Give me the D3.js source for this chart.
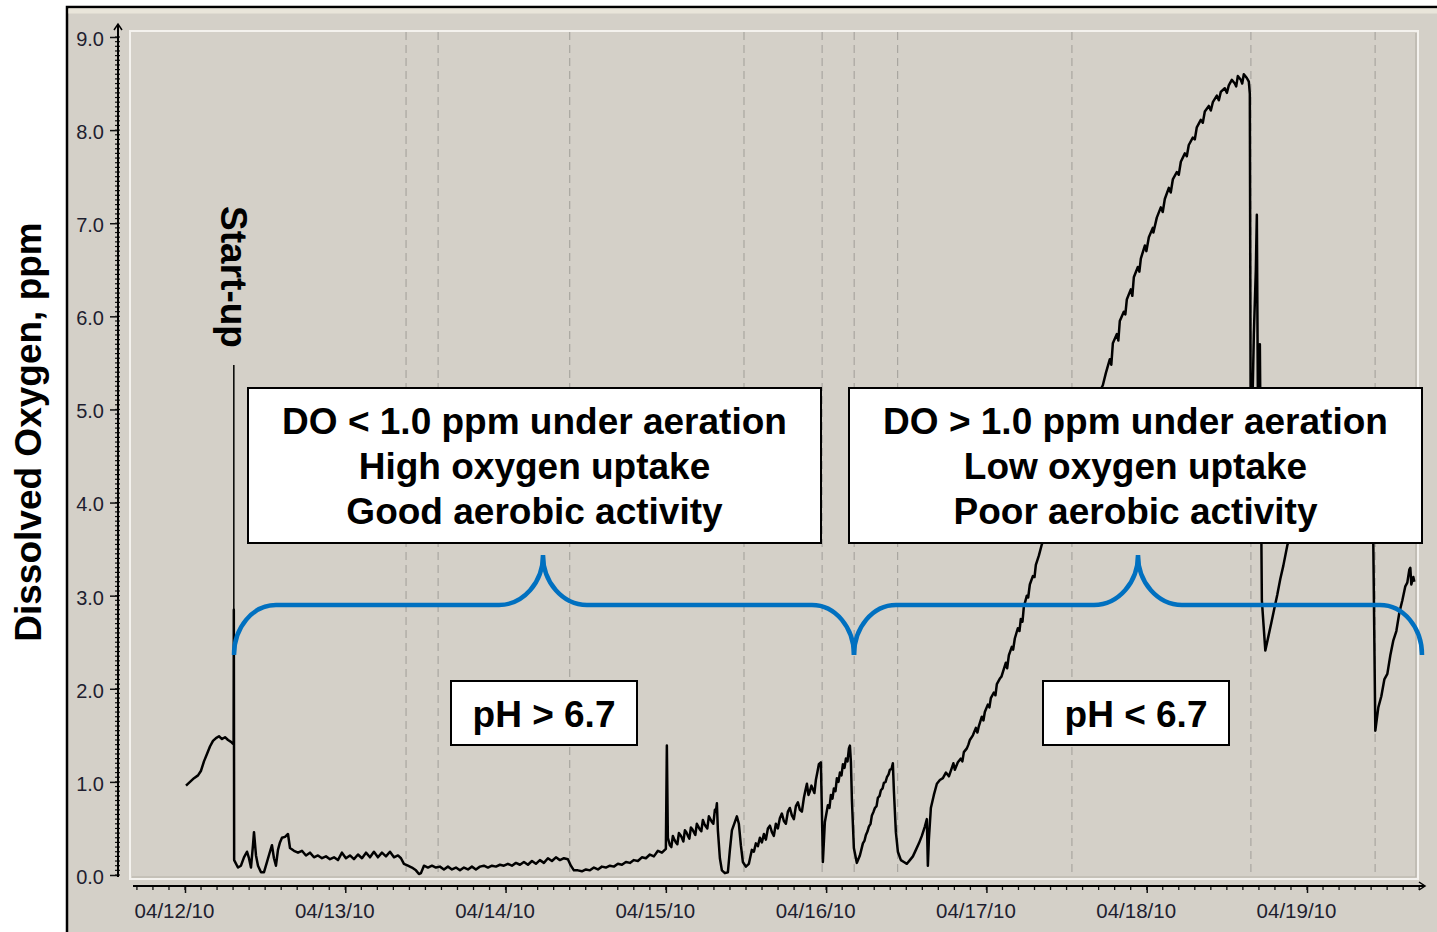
<!DOCTYPE html>
<html>
<head>
<meta charset="utf-8">
<script src="https://cdn.jsdelivr.net/npm/d3@7"></script>
<style>
  html, body { margin: 0; padding: 0; background: #fff; overflow: hidden; }
  svg { display: block; }
</style>
</head>
<body>
<script>
// ---- data ----
const startDate = new Date(2010, 3, 12);           // 04/12/10 00:00
const dayLabels = ["04/12/10", "04/13/10", "04/14/10", "04/15/10", "04/16/10", "04/17/10", "04/18/10", "04/19/10"];
const yTicks = [0, 1, 2, 3, 4, 5, 6, 7, 8, 9];
// hours after start where the dashed event markers sit
const eventHours = [33.1, 37.9, 57.6, 83.7, 95.4, 100.2, 106.7, 132.8, 159.6, 178.2];
const startupHour = 7.31;
// [hours since 04/12 00:00, dissolved oxygen ppm]
const doReadings = [
  [0.15, 0.96], [0.75, 1.00], [1.35, 1.04], [1.95, 1.07], [2.40, 1.12], [2.84, 1.22], [3.29, 1.30], [3.74, 1.38],
  [4.19, 1.44], [4.64, 1.47], [5.09, 1.49], [5.54, 1.46], [5.99, 1.48], [6.44, 1.45], [6.89, 1.43], [7.19, 1.41],
  [7.28, 1.42], [7.31, 2.85], [7.36, 0.16], [7.93, 0.08], [8.38, 0.10], [8.83, 0.19], [9.28, 0.25], [9.58, 0.18],
  [9.88, 0.08], [10.18, 0.32], [10.33, 0.46], [10.63, 0.21], [10.93, 0.10], [11.38, 0.03], [11.83, 0.03], [12.28, 0.14],
  [12.72, 0.25], [13.02, 0.32], [13.32, 0.18], [13.62, 0.10], [13.92, 0.27], [14.22, 0.35], [14.52, 0.40], [14.97, 0.41],
  [15.42, 0.44], [15.72, 0.29], [16.32, 0.26], [16.92, 0.24], [17.51, 0.26], [18.11, 0.21], [18.71, 0.24], [19.31, 0.19],
  [19.91, 0.21], [20.51, 0.18], [21.11, 0.20], [21.71, 0.17], [22.31, 0.19], [22.90, 0.16], [23.50, 0.24], [24.10, 0.18],
  [24.70, 0.21], [25.30, 0.17], [25.90, 0.22], [26.50, 0.18], [27.10, 0.24], [27.70, 0.19], [28.29, 0.25], [28.89, 0.19],
  [29.49, 0.24], [30.09, 0.20], [30.69, 0.25], [31.29, 0.19], [31.89, 0.21], [32.34, 0.18], [32.78, 0.12], [33.38, 0.10],
  [33.98, 0.08], [34.58, 0.05], [35.03, 0.01], [35.33, 0.02], [35.78, 0.10], [36.38, 0.08], [36.98, 0.10], [37.57, 0.08],
  [38.17, 0.09], [38.77, 0.06], [39.37, 0.09], [39.97, 0.06], [40.57, 0.08], [41.17, 0.05], [41.77, 0.08], [42.37, 0.06],
  [42.96, 0.09], [43.56, 0.06], [44.16, 0.09], [44.76, 0.10], [45.36, 0.08], [45.96, 0.10], [46.56, 0.09], [47.16, 0.11],
  [47.75, 0.10], [48.35, 0.12], [48.95, 0.10], [49.55, 0.13], [50.15, 0.11], [50.75, 0.14], [51.35, 0.11], [51.95, 0.15],
  [52.54, 0.12], [53.14, 0.16], [53.74, 0.13], [54.34, 0.18], [54.94, 0.15], [55.54, 0.19], [56.14, 0.16], [56.74, 0.18],
  [57.33, 0.17], [57.78, 0.10], [58.23, 0.05], [58.83, 0.05], [59.43, 0.04], [60.03, 0.06], [60.63, 0.05], [61.23, 0.08],
  [61.83, 0.06], [62.42, 0.09], [63.02, 0.08], [63.62, 0.10], [64.22, 0.09], [64.82, 0.12], [65.42, 0.11], [66.02, 0.14],
  [66.62, 0.13], [67.21, 0.16], [67.81, 0.15], [68.41, 0.19], [69.01, 0.18], [69.61, 0.22], [70.21, 0.20], [70.81, 0.26],
  [71.41, 0.24], [72.00, 0.28], [72.15, 1.39], [72.30, 0.40], [72.45, 0.36], [72.60, 0.32], [72.82, 0.30], [73.05, 0.42],
  [73.27, 0.38], [73.50, 0.35], [73.72, 0.33], [73.95, 0.45], [74.17, 0.43], [74.40, 0.40], [74.62, 0.36], [74.85, 0.48],
  [75.07, 0.46], [75.30, 0.42], [75.52, 0.39], [75.75, 0.51], [75.97, 0.49], [76.19, 0.46], [76.41, 0.43], [76.64, 0.55],
  [76.86, 0.52], [77.09, 0.49], [77.31, 0.47], [77.54, 0.59], [77.76, 0.55], [77.99, 0.52], [78.21, 0.50], [78.44, 0.63],
  [78.66, 0.60], [78.89, 0.57], [79.11, 0.55], [79.34, 0.70], [79.49, 0.68], [79.64, 0.77], [79.79, 0.48], [80.09, 0.18],
  [80.39, 0.05], [80.84, 0.02], [81.29, 0.03], [81.59, 0.27], [81.89, 0.48], [82.34, 0.57], [82.63, 0.63], [82.93, 0.55],
  [83.23, 0.32], [83.53, 0.14], [83.98, 0.09], [84.43, 0.12], [84.88, 0.27], [85.18, 0.25], [85.48, 0.34], [85.78, 0.31],
  [86.08, 0.40], [86.38, 0.35], [86.68, 0.44], [86.98, 0.38], [87.28, 0.50], [87.58, 0.53], [87.88, 0.46], [88.17, 0.42],
  [88.47, 0.55], [88.77, 0.50], [89.07, 0.61], [89.37, 0.66], [89.67, 0.58], [89.97, 0.55], [90.27, 0.68], [90.57, 0.72],
  [90.87, 0.64], [91.17, 0.60], [91.47, 0.74], [91.77, 0.78], [92.07, 0.70], [92.37, 0.68], [92.67, 0.83], [92.87, 0.90],
  [93.12, 0.98], [93.35, 0.86], [93.57, 0.90], [93.80, 0.96], [94.02, 0.92], [94.24, 0.88], [94.46, 1.02], [94.68, 1.10],
  [94.91, 1.19], [95.21, 1.21], [95.36, 0.70], [95.51, 0.14], [95.81, 0.57], [96.26, 0.75], [96.50, 0.72], [96.71, 0.86],
  [96.95, 0.82], [97.16, 0.93], [97.40, 0.90], [97.61, 1.04], [97.85, 1.00], [98.06, 1.10], [98.30, 1.07], [98.51, 1.19],
  [98.75, 1.15], [98.96, 1.25], [99.20, 1.22], [99.41, 1.36], [99.56, 1.39], [99.71, 1.21], [99.86, 0.80], [100.15, 0.29],
  [100.60, 0.13], [101.05, 0.21], [101.30, 0.28], [101.50, 0.34], [101.75, 0.37], [101.95, 0.43], [102.20, 0.47], [102.40, 0.52],
  [102.65, 0.55], [102.85, 0.64], [103.10, 0.68], [103.30, 0.72], [103.55, 0.74], [103.75, 0.83], [104.00, 0.85], [104.20, 0.91],
  [104.45, 0.93], [104.65, 0.99], [104.90, 1.00], [105.10, 1.05], [105.35, 1.08], [105.54, 1.13], [105.80, 1.14], [105.99, 1.20],
  [106.14, 0.91], [106.44, 0.46], [106.74, 0.25], [107.19, 0.16], [107.64, 0.14], [108.09, 0.12], [108.54, 0.16], [108.99, 0.20],
  [109.44, 0.27], [109.89, 0.34], [110.33, 0.42], [110.78, 0.52], [111.08, 0.60], [111.23, 0.10], [111.38, 0.38], [111.68, 0.72],
  [112.13, 0.86], [112.58, 0.98], [113.03, 1.02], [113.48, 1.04], [113.93, 1.10], [114.38, 1.06], [114.82, 1.15], [115.05, 1.20],
  [115.27, 1.13], [115.72, 1.21], [116.17, 1.25], [116.40, 1.22], [116.62, 1.32], [117.07, 1.36], [117.30, 1.40], [117.52, 1.45],
  [117.97, 1.50], [118.42, 1.58], [118.65, 1.53], [118.87, 1.60], [119.31, 1.70], [119.55, 1.66], [119.76, 1.75], [120.21, 1.83],
  [120.45, 1.80], [120.66, 1.90], [121.11, 1.96], [121.35, 1.93], [121.56, 2.05], [122.01, 2.11], [122.25, 2.13], [122.46, 2.18],
  [122.91, 2.28], [123.10, 2.22], [123.36, 2.36], [123.80, 2.45], [124.00, 2.42], [124.25, 2.54], [124.70, 2.65], [124.95, 2.62],
  [125.15, 2.75], [125.40, 2.72], [125.60, 2.88], [126.05, 3.00], [126.25, 2.98], [126.50, 3.12], [126.95, 3.21], [127.20, 3.20],
  [127.40, 3.33], [127.85, 3.43], [128.29, 3.55], [130.99, 4.02], [133.98, 4.55], [136.98, 5.20], [137.43, 5.26], [137.88, 5.39],
  [138.48, 5.54], [138.70, 5.48], [138.93, 5.71], [139.53, 5.81], [139.75, 5.74], [139.97, 5.95], [140.57, 6.05], [140.80, 6.02],
  [141.02, 6.18], [141.62, 6.29], [141.85, 6.22], [142.07, 6.42], [142.67, 6.53], [142.90, 6.48], [143.12, 6.62], [143.72, 6.76],
  [143.95, 6.70], [144.32, 6.85], [144.91, 6.95], [145.00, 6.90], [145.51, 7.06], [146.11, 7.17], [146.40, 7.12], [146.71, 7.26],
  [147.31, 7.38], [147.60, 7.33], [147.91, 7.47], [148.51, 7.55], [148.80, 7.52], [149.11, 7.66], [149.71, 7.75], [150.00, 7.72],
  [150.30, 7.84], [150.90, 7.92], [151.20, 7.90], [151.50, 8.03], [152.10, 8.11], [152.40, 8.08], [152.70, 8.20], [153.30, 8.26],
  [153.60, 8.21], [153.90, 8.30], [154.50, 8.37], [154.80, 8.32], [155.09, 8.41], [155.69, 8.45], [156.00, 8.40], [156.29, 8.48],
  [156.74, 8.54], [157.19, 8.50], [157.40, 8.47], [157.64, 8.58], [158.09, 8.54], [158.30, 8.50], [158.54, 8.60], [158.99, 8.56],
  [159.29, 8.52], [159.44, 8.39], [159.59, 4.20], [160.04, 5.80], [160.34, 6.50], [160.49, 7.09], [160.64, 5.20], [160.94, 5.70],
  [161.24, 2.95], [161.76, 2.41], [162.21, 2.56], [162.66, 2.71], [163.10, 2.86], [163.55, 3.01], [164.00, 3.18], [164.45, 3.32],
  [165.05, 3.54], [168.49, 4.34], [172.99, 4.77], [177.63, 5.09], [177.93, 3.54], [178.23, 1.55], [178.68, 1.80], [179.13, 1.92],
  [179.58, 2.10], [180.03, 2.16], [180.48, 2.36], [180.93, 2.52], [181.38, 2.62], [181.83, 2.82], [182.28, 2.95], [182.72, 3.10],
  [183.02, 3.14], [183.32, 3.28], [183.47, 3.30], [183.62, 3.12], [183.92, 3.20], [184.07, 3.15]
];
const regimeNotes = [
  ["DO < 1.0 ppm under aeration", "High oxygen uptake", "Good aerobic activity"],
  ["DO > 1.0 ppm under aeration", "Low oxygen uptake", "Poor aerobic activity"]
];
const phNotes = ["pH > 6.7", "pH < 6.7"];

// ---- layout ----
const W = 1437, H = 932;
const boldFont = "'Liberation Sans', Arial, sans-serif";
const tickFont = "'Liberation Sans', Arial, sans-serif";
const bg = "#d4d0c8";

const hourDate = h => new Date(+startDate + h * 3600e3);
const x = d3.scaleTime().domain([startDate, hourDate(7 * 24)]).range([185, 1307]);
const xh = h => x(hourDate(h));
const y = d3.scaleLinear().domain([0, 9]).range([875, 37]);

const svg = d3.select("body").append("svg").attr("width", W).attr("height", H);

// window frame
svg.append("rect").attr("width", W).attr("height", H).attr("fill", "#fff");
svg.append("rect").attr("x", 67).attr("y", 7).attr("width", W).attr("height", H)
  .attr("fill", bg).attr("stroke", "#000").attr("stroke-width", 2.5);
svg.append("rect").attr("x", 68.5).attr("y", 8.5).attr("width", W).attr("height", 5).attr("fill", "#e9e5da");

// sunken plot area border
svg.append("rect").attr("x", 130).attr("y", 31).attr("width", 1288).attr("height", 848)
  .attr("fill", "none").attr("stroke", "#f4f2ee").attr("stroke-width", 2);
svg.append("path").attr("d", "M1416,33V877H132").attr("fill", "none").attr("stroke", "#b5b1a8").attr("stroke-width", 1.2);

// event markers
svg.append("g").selectAll("line").data(eventHours).join("line")
  .attr("x1", d => xh(d)).attr("x2", d => xh(d))
  .attr("y1", 32).attr("y2", 876)
  .attr("stroke", "#a9a6a0").attr("stroke-width", 1.2).attr("stroke-dasharray", "8,5");

// y axis
const yAxis = svg.append("g").attr("transform", "translate(118,0)");
yAxis.call(d3.axisLeft(y).tickValues(yTicks).tickFormat(d3.format(".1f")).tickSize(8).tickPadding(6))
  .call(g => g.select(".domain").remove());
yAxis.selectAll(".tick line").attr("stroke", "#111").attr("stroke-width", 1.5);
yAxis.selectAll(".tick text").attr("font-family", tickFont).attr("font-size", 20).attr("fill", "#1e1e30").attr("dy", "0.42em");
yAxis.append("g").selectAll("line").data(d3.range(0, 181).map(i => i * 0.05)).join("line")
  .attr("x1", -3).attr("x2", 2).attr("y1", d => y(d)).attr("y2", d => y(d))
  .attr("stroke", "#111").attr("stroke-width", 1.2);
yAxis.append("line").attr("y1", 877).attr("y2", 24).attr("stroke", "#000").attr("stroke-width", 2);
yAxis.append("path").attr("d", "M-4,30L0,24L4,30").attr("fill", "none").attr("stroke", "#000").attr("stroke-width", 1.5);

// x axis
const xAxis = svg.append("g").attr("transform", "translate(0,886)");
xAxis.call(d3.axisBottom(x).tickValues(dayLabels.map((_, i) => hourDate(i * 24)))
    .tickFormat((d, i) => dayLabels[i]).tickSize(7).tickPadding(8))
  .call(g => g.select(".domain").remove());
xAxis.selectAll(".tick line").attr("stroke", "#111").attr("stroke-width", 1.5);
xAxis.selectAll(".tick text").attr("font-family", tickFont).attr("font-size", 20.5).attr("fill", "#1e1e30")
  .attr("dx", -11).attr("dy", "0.85em");
xAxis.append("g").selectAll("line").data(d3.range(-3, 78).map(i => i * 2.4)).join("line")
  .attr("x1", d => xh(d)).attr("x2", d => xh(d)).attr("y1", -1).attr("y2", 4)
  .attr("stroke", "#111").attr("stroke-width", 1.3);
xAxis.append("line").attr("x1", 133).attr("x2", 1425).attr("stroke", "#000").attr("stroke-width", 2);
xAxis.append("path").attr("d", "M1419,-4L1425,0L1419,4").attr("fill", "none").attr("stroke", "#000").attr("stroke-width", 1.5);

// start-up pointer (under the trace)
svg.append("line").attr("x1", xh(startupHour)).attr("x2", xh(startupHour))
  .attr("y1", 365).attr("y2", y(2.85)).attr("stroke", "#000").attr("stroke-width", 1.5);

// DO trace
const trace = d3.sort(doReadings, d => d[0]);
svg.append("path").datum(trace)
  .attr("fill", "none").attr("stroke", "#000").attr("stroke-width", 2.5).attr("stroke-linejoin", "round")
  .attr("d", d3.line().x(d => xh(d[0])).y(d => y(d[1])));

// start-up label
svg.append("text")
  .attr("transform", `translate(${xh(startupHour) - 13},277) rotate(90)`)
  .attr("text-anchor", "middle")
  .attr("font-family", boldFont).attr("font-weight", "bold").attr("font-size", 37).attr("fill", "#000")
  .text("Start-up");

// y label
svg.append("text")
  .attr("transform", "translate(41,432) rotate(-90)")
  .attr("text-anchor", "middle")
  .attr("font-family", boldFont).attr("font-weight", "bold").attr("font-size", 37).attr("fill", "#000")
  .text("Dissolved Oxygen, ppm");

// regime boxes
const regimeBoxes = [{ x0: 248, x1: 821 }, { x0: 849, x1: 1422 }];
regimeBoxes.forEach((b, i) => {
  const g = svg.append("g");
  g.append("rect").attr("x", b.x0).attr("y", 388).attr("width", b.x1 - b.x0).attr("height", 155)
    .attr("fill", "#fff").attr("stroke", "#000").attr("stroke-width", 2);
  g.selectAll("text").data(regimeNotes[i]).join("text")
    .attr("x", (b.x0 + b.x1) / 2).attr("y", (d, j) => 434 + j * 45)
    .attr("text-anchor", "middle")
    .attr("font-family", boldFont).attr("font-weight", "bold").attr("font-size", 37).attr("fill", "#000")
    .text(d => d);
});

// braces
const braces = [{ x0: 234, tip: 543, x1: 854 }, { x0: 854, tip: 1138, x1: 1422 }];
const flatY = 605, endY = 655, tipY = 555;
svg.append("g").selectAll("path").data(braces).join("path")
  .attr("fill", "none").attr("stroke", "#0070c0").attr("stroke-width", 4.5)
  .attr("d", b => `M${b.x0},${endY}A42,50 0 0 1 ${b.x0 + 42},${flatY}` +
    `L${b.tip - 44},${flatY}A44,50 0 0 0 ${b.tip},${tipY}` +
    `A44,50 0 0 0 ${b.tip + 44},${flatY}L${b.x1 - 42},${flatY}` +
    `A42,50 0 0 1 ${b.x1},${endY}`);

// pH boxes
const phBoxes = [{ x0: 451, x1: 637 }, { x0: 1043, x1: 1229 }];
phBoxes.forEach((b, i) => {
  svg.append("rect").attr("x", b.x0).attr("y", 681).attr("width", b.x1 - b.x0).attr("height", 64)
    .attr("fill", "#fff").attr("stroke", "#000").attr("stroke-width", 2);
  svg.append("text").attr("x", (b.x0 + b.x1) / 2).attr("y", 727)
    .attr("text-anchor", "middle")
    .attr("font-family", boldFont).attr("font-weight", "bold").attr("font-size", 37).attr("fill", "#000")
    .text(phNotes[i]);
});
</script>
</body>
</html>
